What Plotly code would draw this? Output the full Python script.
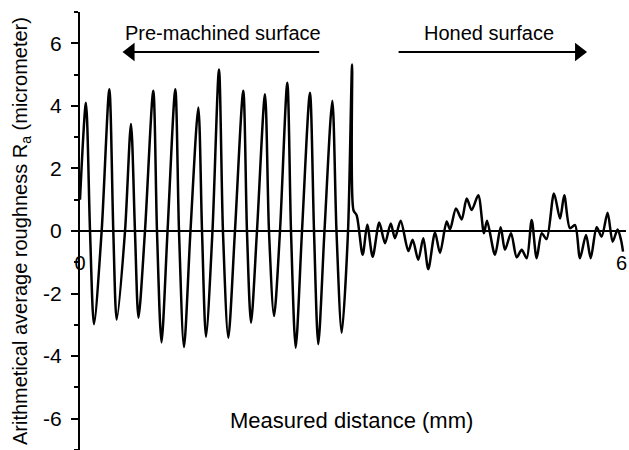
import plotly.graph_objects as go

# Surface profile before honing (distance in mm, height in micrometer)
pre_x = [0.000, 0.066, 0.111, 0.155, 0.240, 0.325, 0.369, 0.407, 0.499, 0.565,
         0.609, 0.648, 0.720, 0.812, 0.853, 0.903, 0.970, 1.056, 1.097, 1.152,
         1.224, 1.311, 1.352, 1.396, 1.468, 1.540, 1.584, 1.643, 1.717, 1.809,
         1.850, 1.895, 1.961, 2.050, 2.094, 2.150, 2.216, 2.297, 2.338, 2.390,
         2.460, 2.548, 2.593, 2.640, 2.709, 2.796, 2.842, 2.900, 2.970, 3.015]
pre_y = [1.00, 4.10, 0.00, -2.98, 0.00, 4.53, 0.00, -2.83, 0.00, 3.42,
         0.00, -2.77, 0.00, 4.48, 0.00, -3.56, 0.00, 4.53, 0.00, -3.71,
         0.00, 3.95, 0.00, -3.38, 0.00, 5.16, 0.00, -3.41, 0.00, 4.48,
         0.00, -2.93, 0.00, 4.37, 0.00, -2.72, 0.00, 4.74, 0.00, -3.73,
         0.00, 4.42, 0.00, -3.62, 0.00, 4.16, 0.00, -3.25, 0.00, 5.32]

# Surface profile after honing
honed_x = [3.030, 3.066, 3.132, 3.183, 3.243, 3.316, 3.380, 3.443, 3.490, 3.553,
           3.638, 3.686, 3.748, 3.804, 3.859, 3.934, 3.989, 4.063, 4.100, 4.166,
           4.229, 4.285, 4.340, 4.413, 4.476, 4.510, 4.598, 4.661, 4.709, 4.776,
           4.839, 4.894, 4.950, 5.005, 5.060, 5.116, 5.170, 5.252, 5.319, 5.366,
           5.429, 5.485, 5.540, 5.607, 5.659, 5.725, 5.780, 5.846, 5.902, 5.957,
           5.995, 6.017]
honed_y = [0.67, 0.50, -0.76, 0.20, -0.82, 0.27, -0.39, 0.24, -0.23, 0.33,
           -0.64, -0.28, -0.92, -0.23, -1.22, -0.05, -0.70, 0.30, 0.05, 0.72,
           0.37, 1.04, 0.67, 1.14, -0.07, 0.33, -0.76, 0.12, -0.60, -0.07,
           -0.84, -0.60, -0.87, 0.35, -0.87, -0.07, -0.26, 1.20, 0.40, 1.14,
           0.09, 0.19, -0.87, -0.13, -0.87, 0.12, -0.18, 0.58, -0.34, 0.05,
           -0.29, -0.66]

y_ticks = [-6, -4, -2, 0, 2, 4, 6]
y_tick_text = ["-6", "-4", "-2", "0", "2", "4", "6"]
x_ticks = [0, 6]
x_tick_text = ["0", "6"]

FONT = "Liberation Sans, Arial, sans-serif"

fig = go.Figure()
fig.add_trace(go.Scatter(
    x=pre_x + honed_x,
    y=pre_y + honed_y,
    mode="lines",
    line=dict(color="black", width=2.5, shape="spline", smoothing=0.8),
    showlegend=False,
    hoverinfo="skip",
))

# Direction arrows above each region: shaft as a line shape, head as a marker
ARROW_Y = 5.72
arrows = [(2.65, 0.56, "triangle-left"), (3.53, 5.53, "triangle-right")]
for tail, tip, head in arrows:
    fig.add_shape(type="line", x0=tail, x1=tip, y0=ARROW_Y, y1=ARROW_Y,
                  xref="x", yref="y", line=dict(color="black", width=2))
    fig.add_trace(go.Scatter(
        x=[tip], y=[ARROW_Y], mode="markers",
        marker=dict(symbol=head, size=16, color="black"),
        showlegend=False, hoverinfo="skip",
    ))

fig.update_layout(
    width=629, height=450,
    margin=dict(l=80, r=3, t=12, b=0),
    paper_bgcolor="white", plot_bgcolor="white",
    font=dict(family=FONT, color="black", size=20),
    xaxis=dict(
        range=[0, 6.05], anchor="free", position=0.5,
        showline=True, linecolor="black", linewidth=2,
        showgrid=False, zeroline=False,
        tickvals=x_ticks, ticktext=x_tick_text, ticks="",
        ticklabelstandoff=14, tickfont=dict(size=20),
    ),
    yaxis=dict(
        range=[-7, 7],
        showline=True, linecolor="black", linewidth=2,
        showgrid=False, zeroline=False,
        tickvals=y_ticks, ticktext=y_tick_text,
        ticks="outside", ticklen=7, tickwidth=2,
        tickcolor="black", ticklabelstandoff=5, tickfont=dict(size=21),
        minor=dict(tickvals=[-7, -5, -3, -1, 1, 3, 5, 7], ticks="outside",
                   ticklen=4, tickwidth=2, tickcolor="black"),
    ),
)

# Axis titles
fig.add_annotation(
    text="Arithmetical average roughness R<sub>a</sub> (micrometer)",
    xref="paper", yref="paper", x=-0.108, y=0.5,
    textangle=-90, showarrow=False, font=dict(size=20),
    xanchor="center", yanchor="middle",
)
fig.add_annotation(
    text="Measured distance (mm)",
    xref="paper", yref="paper", x=0.498, y=0.068,
    showarrow=False, font=dict(size=22),
    xanchor="center", yanchor="middle",
)

# Region labels
fig.add_annotation(text="Pre-machined surface", x=1.585, y=6.33,
                   showarrow=False, font=dict(size=20))
fig.add_annotation(text="Honed surface", x=4.537, y=6.33,
                   showarrow=False, font=dict(size=20))

fig.write_html("out.html")
